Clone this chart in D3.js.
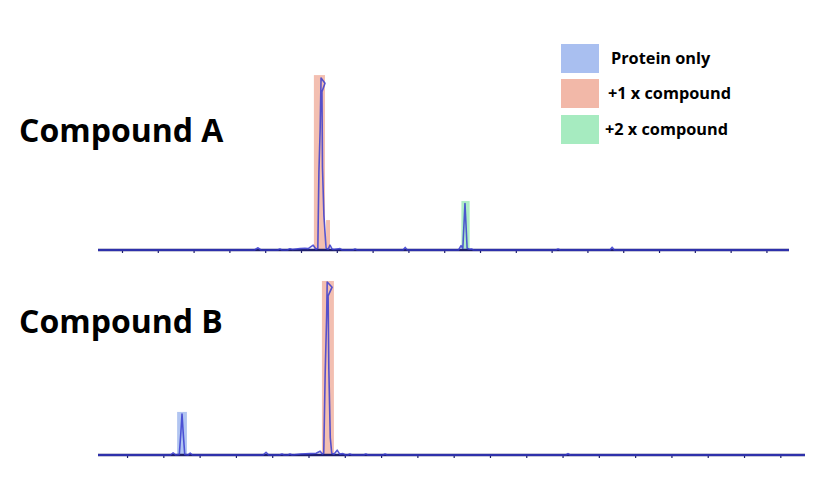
<!DOCTYPE html>
<html><head><meta charset="utf-8">
<script src="https://cdn.jsdelivr.net/npm/d3@7"></script>
<style>body{margin:0;background:#fff}svg{display:block}</style>
</head><body><svg id="c" width="828" height="485"></svg>
<script>
// ---- data ----
const panels = ["Compound A", "Compound B"];
const legendLabels = ["Protein only", "+1 x compound", "+2 x compound"];
const tickValues = d3.range(0, 19);
// trace A: [position, intensity]
const traceA = [[-0.67,0],[3.70,0],[3.80,1.3],[3.88,0],[4.35,0],[4.41,0.6],[4.47,0],[4.62,0],[4.69,0.7],[4.76,0.3],[4.97,0.8],[5.11,1.0],[5.20,0.8],[5.34,2.8],[5.42,0.4],[5.47,1],[5.50,45],[5.535,70],[5.56,100],[5.67,97],[5.585,92],[5.60,48],[5.64,20],[5.70,1],[5.76,0.5],[5.81,2.8],[5.87,0.5],[5.92,0.3],[6.09,0.8],[6.15,0],[6.45,0],[6.51,0.6],[6.57,0],[7.85,0],[7.91,1.5],[7.97,0],[9.40,0],[9.47,2.5],[9.52,1],[9.58,27],[9.64,1],[9.70,0.4],[9.76,0.6],[9.82,0],[12.12,0],[12.18,0.6],[12.24,0],[13.63,0],[13.69,1.6],[13.75,0],[18.63,0]];
const traceB = [[-0.8,0],[1.20,0],[1.27,1.3],[1.34,0],[1.44,0.3],[1.48,12],[1.515,23.7],[1.55,12],[1.59,0.3],[1.68,0],[1.74,1.1],[1.80,0],[3.75,0],[3.83,1.6],[3.90,0],[4.20,0],[4.27,0.6],[4.33,0],[4.43,0],[4.49,0.6],[4.55,0],[4.79,0.6],[5.04,0.8],[5.21,1.0],[5.32,2.2],[5.38,0.6],[5.42,1],[5.46,48],[5.50,80],[5.515,100],[5.65,97],[5.54,92],[5.56,50],[5.60,10],[5.64,1],[5.70,0.5],[5.79,2.8],[5.86,0.5],[5.95,0.8],[6.02,0],[6.08,0],[6.14,0.6],[6.20,0],[6.52,0],[6.58,0.6],[6.64,0],[7.05,0],[7.11,0.6],[7.17,0],[12.09,0],[12.15,0.8],[12.21,0],[18.68,0]];
// highlighted regions: [start, end, height, series index]
const regionsA = [[5.36,5.67,101.7,1],[5.70,5.81,17.4,1],[9.48,9.71,28.5,2]];
const regionsB = [[1.38,1.65,24.9,0],[5.37,5.70,100.6,1]];
const domainA = [-0.67, 18.63];
const domainB = [-0.8, 18.68];

// ---- styles ----
const fills = ["#a9bff0", "#f2b8a8", "#a6ebc0"];
const svg = d3.select("#c");

function drawPanel(trace, regions, domain, xr, yBase, yTop, title, titleY) {
  const x = d3.scaleLinear().domain(domain).range(xr);
  const y = d3.scaleLinear().domain([0, 100]).range([yBase, yTop]);
  const g = svg.append("g");
  g.selectAll("rect.reg").data(regions).join("rect")
    .attr("x", d => x(d[0])).attr("width", d => x(d[1]) - x(d[0]))
    .attr("y", d => y(d[2])).attr("height", d => yBase - y(d[2]))
    .attr("fill", d => fills[d[3]]).attr("opacity", 0.9);
  const ax = g.append("g").attr("transform", `translate(0,${yBase})`)
    .call(d3.axisBottom(x).tickValues(tickValues).tickSize(3).tickFormat(""));
  ax.select(".domain").attr("stroke", "#1e1f6e").attr("stroke-width", 2.6).attr("d", `M${xr[0]},0H${xr[1]}`);
  ax.selectAll(".tick line").attr("stroke", "#1e1f6e").attr("stroke-width", 1.2);
  g.append("path").datum(trace)
    .attr("d", d3.line().x(d => x(d[0])).y(d => y(d[1])))
    .attr("fill", "none").attr("stroke", "#3a3ccf").attr("stroke-opacity", 0.85)
    .attr("stroke-width", 1.6).attr("stroke-linejoin", "round");
  svg.append("text").attr("x", 19).attr("y", titleY).text(title)
    .attr("font-family", "Open Sans").attr("font-weight", "bold").attr("font-size", 32).attr("fill", "#000");
}

drawPanel(traceA, regionsA, domainA, [98, 789], 250, 78, panels[0], 142);
drawPanel(traceB, regionsB, domainB, [98, 805], 455, 282, panels[1], 333);

// legend
const leg = svg.append("g");
const legY = [44, 79, 115];
const legTextX = [611, 608, 605];
legendLabels.forEach((t, i) => {
  leg.append("rect").attr("x", 561).attr("y", legY[i]).attr("width", 38).attr("height", 29).attr("fill", fills[i]);
  leg.append("text").attr("x", legTextX[i]).attr("y", legY[i] + 20).text(t)
    .attr("font-family", "Open Sans").attr("font-weight", "bold").attr("font-size", 16.3).attr("fill", "#000");
});
</script></body></html>
